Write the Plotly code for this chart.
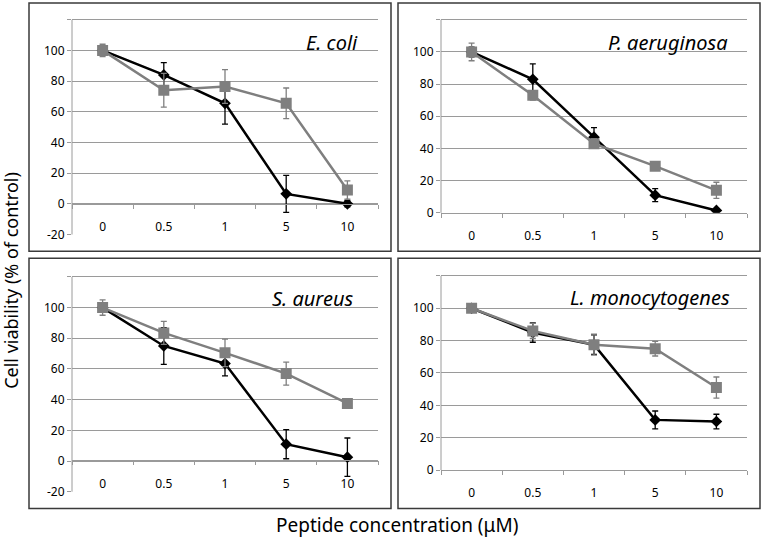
import plotly.graph_objects as go

conc = ["0", "0.5", "1", "5", "10"]

ecoli_black = [100, 84, 65.5, 6.5, 0]
ecoli_black_err = [3, 8, 13.5, 12, 2]
ecoli_gray = [100, 74, 76.5, 65.5, 9]
ecoli_gray_err = [4, 11, 11, 10, 6]

paer_black = [100, 83, 47, 11, 1.5]
paer_black_err = [3, 9.5, 6, 4, 1]
paer_gray = [100, 73, 43, 29, 14]
paer_gray_err = [5.5, 3, 3, 1, 5]

saur_black = [100, 75, 63.5, 11, 2.5]
saur_black_err = [3, 12, 8, 9.5, 12.5]
saur_gray = [100, 83.5, 70.5, 57, 37.5]
saur_gray_err = [5, 7.5, 9, 7.5, 1]

lmono_black = [100, 85, 77.5, 31, 30]
lmono_black_err = [1, 6, 6, 5.5, 4.5]
lmono_gray = [100, 86, 77.5, 75, 51]
lmono_gray_err = [1, 4.7, 6.5, 4.5, 6.5]

panel_names = ["E. coli", "P. aeruginosa", "S. aureus", "L. monocytogenes"]
y_ranges = [(-20, 120), (0, 120), (-20, 120), (0, 120)]

W, H = 763, 548
BLACK = "#000000"
GRAY = "#7f7f7f"
GRID = "#9a9a9a"
FONT = "Noto Sans"
EXTRA = 2  # data units of headroom above the top gridline

def px_x(v):
    return v / W

def px_y(v):
    return 1 - v / H

# plot areas in pixels: (left, right, top(=120), bottom)
areas = [(72, 378, 20, 238), (441, 747, 20, 216), (72, 378, 281, 499), (441, 747, 280, 477)]
zero_px = [207, 216, 467, 477]
standoffs = [12, 12, 12, 12]

data = [
    (ecoli_black, ecoli_black_err, ecoli_gray, ecoli_gray_err),
    (paer_black, paer_black_err, paer_gray, paer_gray_err),
    (saur_black, saur_black_err, saur_gray, saur_gray_err),
    (lmono_black, lmono_black_err, lmono_gray, lmono_gray_err),
]

fig = go.Figure()
layout = dict(
    width=W, height=H, margin=dict(l=0, r=0, t=0, b=0),
    paper_bgcolor="white", plot_bgcolor="white", showlegend=False,
    font=dict(family=FONT, color="#000000", size=12),
)

for i, (bv, be, gv, ge) in enumerate(data):
    n = i + 1
    xa = "x" if n == 1 else f"x{n}"
    ya = "y" if n == 1 else f"y{n}"
    fig.add_trace(go.Scatter(
        x=conc, y=bv, xaxis=xa, yaxis=ya, mode="lines+markers",
        line=dict(color=BLACK, width=2.5),
        marker=dict(symbol="diamond", size=9, color=BLACK),
        error_y=dict(type="data", array=be, color=BLACK, thickness=1.3, width=3),
    ))
    fig.add_trace(go.Scatter(
        x=conc, y=gv, xaxis=xa, yaxis=ya, mode="lines+markers",
        line=dict(color=GRAY, width=2.5),
        marker=dict(symbol="square", size=11, color=GRAY),
        error_y=dict(type="data", array=ge, color=GRAY, thickness=1.3, width=3),
    ))
    l, r, t, b = areas[i]
    y0, y1 = y_ranges[i]
    ppu = (b - t) / (y1 - y0)
    top = t - EXTRA * ppu
    tv = list(range(y0, y1 + 1, 20))
    tt = [str(v) if v != 120 else "" for v in tv]
    xkey = "xaxis" if n == 1 else f"xaxis{n}"
    ykey = "yaxis" if n == 1 else f"yaxis{n}"
    xdict = dict(
        domain=[px_x(l), px_x(r)], type="category", categoryorder="array",
        categoryarray=conc, range=[-0.5, 4.5], tickson="boundaries",
        ticks="outside", ticklen=4, tickcolor=GRID, showline=True,
        linecolor=GRID, linewidth=1, showgrid=False, zeroline=False,
        tickfont=dict(size=12, color="#000000", family=FONT),
        ticklabelstandoff=standoffs[i], fixedrange=True,
    )
    if y0 < 0:
        xdict.update(anchor="free", position=px_y(zero_px[i]))
    else:
        xdict.update(anchor=ya)
    ydict = dict(
        domain=[px_y(b), px_y(top)], range=[y0, y1 + EXTRA], anchor=xa,
        tickvals=tv, ticktext=tt, showgrid=True, gridcolor=GRID, gridwidth=1,
        zeroline=False, showline=False,
        ticks="outside", ticklen=4, tickcolor=GRID,
        tickfont=dict(size=12, color="#000000", family=FONT), fixedrange=True,
    )
    layout[xkey] = xdict
    layout[ykey] = ydict

shapes = []
# vertical axis lines from bottom to 120 gridline
for (l, r, t, b) in areas:
    shapes.append(dict(type="line", xref="paper", yref="paper",
                       x0=px_x(l), x1=px_x(l), y0=px_y(b), y1=px_y(t),
                       line=dict(color=GRID, width=1)))
# panel frames
frames = [(29, 391, 3, 255), (398, 760, 3, 255), (29, 391, 262, 516), (398, 760, 262, 516)]
for (x0, x1, t, b) in frames:
    shapes.append(dict(type="rect", xref="paper", yref="paper",
                       x0=px_x(x0), x1=px_x(x1), y0=px_y(b), y1=px_y(t),
                       line=dict(color="#3a3a3a", width=1.5), fillcolor="rgba(0,0,0,0)"))
layout["shapes"] = shapes

title_pos = [(360, 43), (730, 43), (355, 303), (732, 302)]
ann = []
for name, (xr, yc) in zip(panel_names, title_pos):
    ann.append(dict(text=f"<i>{name}</i>", xref="paper", yref="paper",
                    x=px_x(xr), y=px_y(yc), xanchor="right", yanchor="middle",
                    showarrow=False, font=dict(size=20, family=FONT, color="#000000")))
ann.append(dict(text="Cell viability (% of control)", xref="paper", yref="paper",
                x=px_x(11), y=px_y(285), textangle=-90, xanchor="center", yanchor="middle",
                showarrow=False, font=dict(size=18, family=FONT, color="#000000")))
ann.append(dict(text="Peptide concentration (μM)", xref="paper", yref="paper",
                x=px_x(397), y=px_y(533), xanchor="center", yanchor="middle",
                showarrow=False, font=dict(size=19, family=FONT, color="#000000")))
layout["annotations"] = ann

fig.update_layout(**layout)
fig.write_html("out.html", config={"displayModeBar": False},
               post_script="document.body.style.margin='0';")
